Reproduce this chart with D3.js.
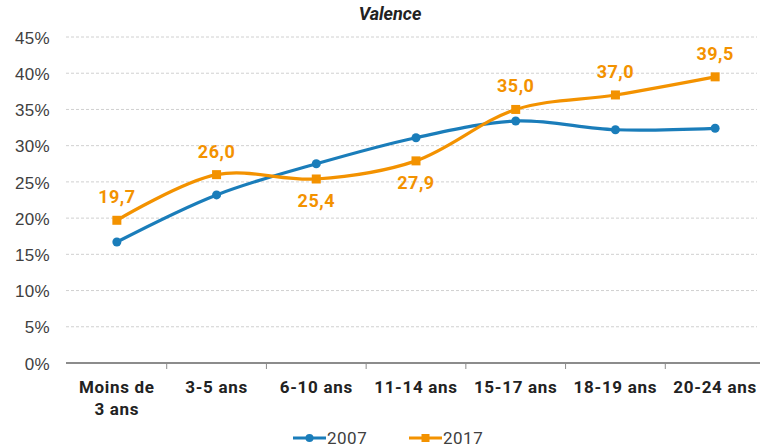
<!DOCTYPE html>
<html>
<head>
<meta charset="utf-8">
<script src="https://cdn.jsdelivr.net/npm/d3@7"></script>
<style>
  body { margin: 0; background: #fff; }
  svg { font-family: Roboto, "Open Sans", sans-serif; }
</style>
</head>
<body>
<svg width="762" height="448"></svg>
<script>
// age groups, two lines per group
const categories = ["Moins de|3 ans", "3-5 ans", "6-10 ans", "11-14 ans", "15-17 ans", "18-19 ans", "20-24 ans"];
const values2007 = [16.7, 23.2, 27.5, 31.1, 33.4, 32.2, 32.4];
const values2017 = [19.7, 26.0, 25.4, 27.9, 35.0, 37.0, 39.5];
// where each 2017 label sits: above or below its point
const labelSide2017 = ["up", "up", "down", "down", "up", "up", "up"];
const yTicks = [0, 5, 10, 15, 20, 25, 30, 35, 40, 45];

const blue = "#1a7dba", orange = "#f39200";

var svg = d3.select("svg");

var x = d3.scaleBand().domain(categories).range([67, 765]);
var y = d3.scaleLinear().domain([0, 45]).range([363, 37]);
var cx = function(d, i) { return x(categories[i]) + x.bandwidth() / 2; };

// title
svg.append("text")
    .attr("x", 390).attr("y", 20)
    .attr("text-anchor", "middle")
    .style("font-weight", "bold").style("font-style", "italic")
    .style("font-size", "18px").attr("fill", "#222")
    .text("Valence");

// gridlines
svg.append("g")
    .selectAll("line")
    .data(yTicks.filter(function(t) { return t > 0; }))
    .enter().append("line")
    .attr("x1", 66).attr("x2", 757)
    .attr("y1", function(d) { return y(d); })
    .attr("y2", function(d) { return y(d); })
    .attr("stroke", "#d0d0d0").attr("stroke-dasharray", "3,2");

// y axis labels
var yAxis = svg.append("g")
    .attr("transform", "translate(50,0)")
    .call(d3.axisLeft(y).tickValues(yTicks).tickSize(0).tickFormat(function(d) { return d + "%"; }));
yAxis.select(".domain").remove();
yAxis.selectAll("text")
    .style("font-size", "17px").style("letter-spacing", "0.3px")
    .attr("fill", "#404040").attr("x", 0).attr("dy", "0.36em");

// x axis
var xAxis = svg.append("g")
    .attr("transform", "translate(0,363)")
    .call(d3.axisBottom(x).tickSize(0).tickFormat(""));
xAxis.select(".domain").attr("stroke", "#8c8c8c").attr("stroke-width", 2)
    .attr("d", "M66,0H760");
svg.append("g")
    .selectAll("line")
    .data(categories.slice(1))
    .enter().append("line")
    .attr("x1", function(d) { return x(d); }).attr("x2", function(d) { return x(d); })
    .attr("y1", 363).attr("y2", 369)
    .attr("stroke", "#8c8c8c").attr("stroke-width", 1);

var xl = svg.append("g").selectAll("text")
    .data(categories)
    .enter().append("text")
    .attr("text-anchor", "middle")
    .attr("y", 393)
    .style("font-size", "17px").style("font-weight", "bold")
    .style("letter-spacing", "0.7px").attr("fill", "#222");
xl.each(function(d) {
    var t = d3.select(this);
    var cxx = x(d) + x.bandwidth() / 2;
    d.split("|").forEach(function(part, k) {
        t.append("tspan").attr("x", cxx).attr("dy", k ? 22 : 0).text(part);
    });
});

// series
var line = d3.line()
    .x(cx)
    .y(function(d) { return y(d); })
    .curve(d3.curveCatmullRom.alpha(0.5));

svg.append("path").datum(values2007)
    .attr("d", line).attr("fill", "none")
    .attr("stroke", blue).attr("stroke-width", 3.2);
svg.append("g").selectAll("circle")
    .data(values2007).enter().append("circle")
    .attr("cx", cx).attr("cy", function(d) { return y(d); })
    .attr("r", 4.5).attr("fill", blue);

svg.append("path").datum(values2017)
    .attr("d", line).attr("fill", "none")
    .attr("stroke", orange).attr("stroke-width", 3.2);
svg.append("g").selectAll("rect")
    .data(values2017).enter().append("rect")
    .attr("x", function(d, i) { return cx(d, i) - 4.5; })
    .attr("y", function(d) { return y(d) - 4.5; })
    .attr("width", 9).attr("height", 9).attr("fill", orange);

svg.append("g").selectAll("text")
    .data(values2017).enter().append("text")
    .attr("x", cx)
    .attr("y", function(d, i) { return labelSide2017[i] === "up" ? y(d) - 17 : y(d) + 28; })
    .attr("text-anchor", "middle")
    .style("font-size", "18px").style("font-weight", "bold")
    .style("letter-spacing", "0.5px").attr("fill", orange)
    .text(function(d) { return d.toFixed(1).replace(".", ","); });

// legend
var legend = [["2007", blue, 293], ["2017", orange, 409]];
legend.forEach(function(l, k) {
    var g = svg.append("g").attr("transform", "translate(" + l[2] + ",438)");
    g.append("line").attr("x1", 0).attr("x2", 33).attr("stroke", l[1]).attr("stroke-width", 3);
    if (k === 0) g.append("circle").attr("cx", 16.5).attr("r", 4).attr("fill", l[1]);
    else g.append("rect").attr("x", 12.5).attr("y", -4).attr("width", 8).attr("height", 8).attr("fill", l[1]);
    g.append("text").attr("x", 34).attr("y", 6)
        .style("font-size", "17px").style("letter-spacing", "0.5px")
        .attr("fill", "#404040").text(l[0]);
});
</script>
</body>
</html>
